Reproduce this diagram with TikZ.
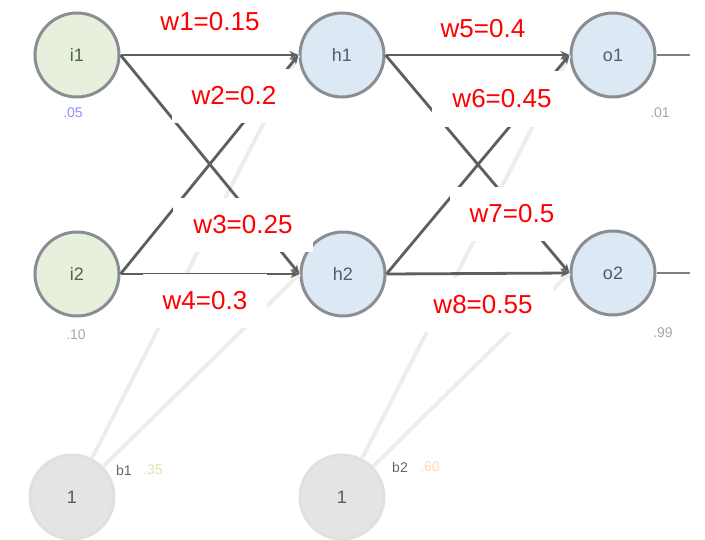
\documentclass[tikz,border=0pt]{standalone}
\usepackage{fontspec}
\setmainfont{Liberation Sans}
\usetikzlibrary{arrows.meta}
\definecolor{inputfill}{HTML}{E6F0DC}
\definecolor{hiddenfill}{HTML}{DDE8F5}
\definecolor{biasfill}{HTML}{E4E4E4}
\definecolor{ringgray}{HTML}{8A8E92}
\definecolor{edgegray}{HTML}{5C5E60}
\definecolor{inputtext}{HTML}{52634A}
\definecolor{hiddentext}{HTML}{4D5D74}
\begin{document}
\begin{tikzpicture}
[x=1pt,y=-1pt,
 nodedecorate/.style={shape=circle,minimum size=84pt,inner sep=0pt,draw=ringgray,line width=3pt,%
   font=\fontsize{18}{18}\selectfont},%
 inputdecorate/.style={nodedecorate,fill=inputfill,text=inputtext},%
 hiddendecorate/.style={nodedecorate,fill=hiddenfill,text=hiddentext},%
 biasdecorate/.style={nodedecorate,fill=biasfill,draw=black!12,text=black!65},%
 valuedecorate/.style={font=\fontsize{14}{14}\selectfont,inner sep=1pt},%
 linedecorate/.style={-{Stealth[length=9pt,width=8pt]},draw=edgegray,line width=2.8pt},%
 outlinedecorate/.style={-,draw=edgegray!80,line width=2.8pt},%
 biaslinedecorate/.style={-,draw=black!7,line width=4pt},%
 weightdecorate/.style={fill=white,text=red,inner xsep=20pt,inner ysep=0pt,%
   font=\fontsize{26}{26}\selectfont}]
\useasboundingbox (0,0) rectangle (705,539);
%% neurons
\foreach \nodename/\x/\y/\kind in {i1/77/55/inputdecorate, i2/77/274/inputdecorate,
  h1/342/55/hiddendecorate, h2/343/274/hiddendecorate,
  o1/613/55/hiddendecorate, o2/613/273/hiddendecorate} {
  \node (\nodename) at (\x,\y) [\kind] {\nodename};
}
\node (b1) at (72,497) [biasdecorate] {1};
\node (b2) at (342,497) [biasdecorate] {1};
%% values next to the neurons
\foreach \valname/\x/\y/\valcolor/\val in {vi1/73/113/blue!45/.05, vi2/76/335/black!35/.10,
  vo1/660/113/black!35/.01, vo2/663/333/black!35/.99,
  bn1/124/470/black!60/b1, bv1/153/470/olive!25/.35,
  bn2/400/467/black!60/b2, bv2/430/467/orange!30/.60} {
  \node (\valname) at (\x,\y) [valuedecorate,text=\valcolor] {\val};
}
%% edges
\path
\foreach \startnode/\endnode in {b1/h1, b1/h2, b2/o1, b2/o2} {
  (\startnode) edge[biaslinedecorate] (\endnode.west)
};
\path
\foreach \startnode/\endnode in {i1/h1, i1/h2, i2/h1, i2/h2, h1/o1, h1/o2, h2/o1, h2/o2} {
  (\startnode.east) edge[linedecorate] (\endnode.west)
};
\coordinate (out1) at (690,55);
\coordinate (out2) at (690,273);
\draw[outlinedecorate] (o1) -- (out1);
\draw[outlinedecorate] (o2) -- (out2);
%% weights
\foreach \wname/\x/\y/\wval/\boxh in {w1/210/22/0.15/36, w2/234/96/0.2/54, w3/243/225/0.25/54,
  w4/205/301/0.3/54, w5/483/29/0.4/40, w6/502/99/0.45/56, w7/512/214/0.5/54,
  w8/483/305/0.55/54} {
  \node (\wname) at (\x,\y) [weightdecorate,minimum height=\boxh pt] {\wname=\wval};
}
\end{tikzpicture}
\end{document}
